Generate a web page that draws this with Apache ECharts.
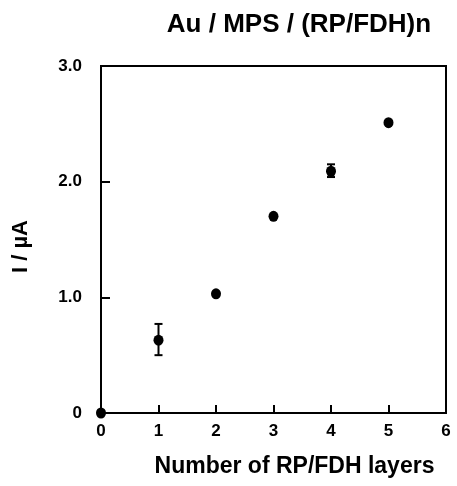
<!DOCTYPE html>
<html><head><meta charset="utf-8">
<script src="https://cdn.jsdelivr.net/npm/echarts@6/dist/echarts.min.js"></script>
<style>html,body{margin:0;padding:0;background:#fff}#c{width:457px;height:486px}</style>
</head><body><div id="c"></div>
<script>
var layers = [0, 1, 2, 3, 4, 5];
var current = [0, 0.63, 1.03, 1.70, 2.09, 2.51];
var errLow = [null, 0.50, null, null, 2.04, null];
var errHigh = [null, 0.77, null, null, 2.15, null];
var yTicks = ['0', '1.0', '2.0', '3.0'];

var FONT = 'Liberation Sans';
var pts = layers.map(function (x, i) { return [x, current[i]]; });
var errs = [];
layers.forEach(function (x, i) { if (errLow[i] !== null) errs.push([x, errLow[i], errHigh[i]]); });

var chart = echarts.init(document.getElementById('c'));
chart.setOption({
  animation: false,
  title: {
    text: 'Au / MPS / (RP/FDH)n', left: 294, top: 7, textAlign: 'center',
    textStyle: { fontFamily: FONT, fontWeight: 'bold', fontSize: 26, color: '#000' }
  },
  grid: { left: 101, right: 11, top: 66, bottom: 73, show: true, borderColor: '#000', borderWidth: 2, backgroundColor: 'transparent' },
  xAxis: {
    type: 'value', min: 0, max: 6, interval: 1,
    name: 'Number of RP/FDH layers', nameLocation: 'middle', nameGap: 42,
    nameTextStyle: { fontFamily: FONT, fontWeight: 'bold', fontSize: 23, color: '#000', padding: [0, 0, 0, 42] },
    axisLine: { show: true, lineStyle: { color: '#000', width: 2 } },
    axisTick: { show: true, inside: true, length: 8, lineStyle: { color: '#000', width: 2 } },
    axisLabel: { fontFamily: FONT, fontWeight: 'bold', fontSize: 17, color: '#000', margin: 10 },
    splitLine: { show: false }
  },
  yAxis: {
    type: 'value', min: 0, max: 3, interval: 1,
    name: 'I / µA', nameLocation: 'middle', nameGap: 69, nameRotate: 90,
    nameTextStyle: { fontFamily: FONT, fontWeight: 'bold', fontSize: 22, color: '#000', padding: [0, 14, 0, 0] },
    axisLine: { show: true, lineStyle: { color: '#000', width: 2 } },
    axisTick: { show: true, inside: true, length: 9, lineStyle: { color: '#000', width: 2 } },
    axisLabel: { fontFamily: FONT, fontWeight: 'bold', fontSize: 17, color: '#000', margin: 19,
      formatter: function (v) { return yTicks[Math.round(v)]; } },
    splitLine: { show: false }
  },
  series: [
    {
      type: 'custom', data: errs, clip: false, z: 3,
      renderItem: function (params, api) {
        var x = api.value(0);
        var lo = api.coord([x, api.value(1)]);
        var hi = api.coord([x, api.value(2)]);
        var w = 4;
        var st = { stroke: '#000', lineWidth: 2 };
        return { type: 'group', children: [
          { type: 'line', shape: { x1: lo[0], y1: lo[1], x2: hi[0], y2: hi[1] }, style: st },
          { type: 'line', shape: { x1: lo[0] - w, y1: lo[1], x2: lo[0] + w, y2: lo[1] }, style: st },
          { type: 'line', shape: { x1: hi[0] - w, y1: hi[1], x2: hi[0] + w, y2: hi[1] }, style: st }
        ]};
      }
    },
    {
      type: 'scatter', data: pts, symbol: 'circle', symbolSize: [10, 11], clip: false, z: 4,
      itemStyle: { color: '#000', opacity: 1 }
    }
  ]
});
</script></body></html>
